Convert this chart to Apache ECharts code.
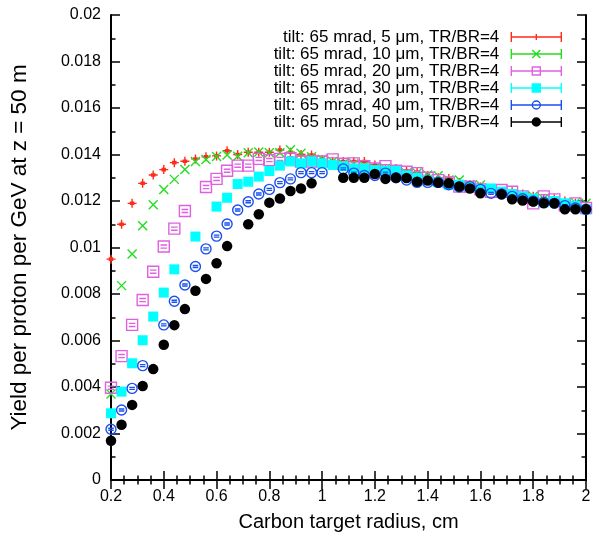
<!DOCTYPE html>
<html>
<head>
<meta charset="utf-8">
<script src="https://cdn.jsdelivr.net/npm/echarts@6/dist/echarts.min.js"></script>
<style>
html,body{margin:0;padding:0;background:#fff;}
#chart{width:594px;height:538px;}
</style>
</head>
<body>
<div id="chart"></div>
<script>
// ---- data ----
const radius = [0.2,0.24,0.28,0.32,0.36,0.4,0.44,0.48,0.52,0.56,0.6,0.64,0.68,0.72,0.76,0.8,0.84,0.88,0.92,0.96,1.0,1.04,1.08,1.12,1.16,1.2,1.24,1.28,1.32,1.36,1.4,1.44,1.48,1.52,1.56,1.6,1.64,1.68,1.72,1.76,1.8,1.84,1.88,1.92,1.96,2.0];

const yield5um  = [0.0095,0.0110,0.0119,0.01276,0.01312,0.01335,0.01365,0.01371,0.01381,0.0139,0.01394,0.01416,0.0140,0.0141,0.0141,0.0141,0.01419,0.0141,0.0140,0.01398,0.01379,0.0137,0.0137,0.0137,0.0137,0.01355,0.0134,0.0134,0.0133,0.01323,0.0131,0.0130,0.01297,0.0128,0.0127,0.0126,0.0125,0.0124,0.0124,0.0123,0.0122,0.0121,0.0121,0.0120,0.0119,0.0117];
const yield10um = [0.0037,0.00836,0.00972,0.01094,0.01184,0.01249,0.01293,0.01335,0.0137,0.01379,0.01391,0.01398,0.01392,0.01408,0.01411,0.01408,0.01408,0.0142,0.01405,0.0139,0.0138,0.0137,0.0136,0.0136,0.0135,0.0134,0.0134,0.0133,0.0132,0.0132,0.01312,0.01309,0.0129,0.0129,0.0127,0.01269,0.0125,0.0124,0.0123,0.0122,0.0122,0.0121,0.0120,0.0119,0.01193,0.0119];
const yield20um = [0.00397,0.00533,0.00667,0.00774,0.00896,0.01004,0.01081,0.01157,null,0.0126,0.01295,0.0133,0.01352,0.01352,0.01381,0.01376,0.01381,0.01384,0.0137,0.0137,0.0137,0.01379,0.0136,0.01362,0.0135,0.0134,0.0135,0.0133,0.01326,0.0132,0.0130,0.0129,0.0128,0.01262,0.01262,0.0125,0.0124,0.01247,0.0124,0.0122,0.0119,0.0122,0.01207,0.0118,0.0119,0.0117];
const yield30um = [0.00287,0.0038,0.00502,0.00601,0.00703,0.00806,0.00906,null,0.01047,null,0.01176,0.01214,0.01273,0.01283,0.01305,0.01329,0.01352,0.0137,0.01362,0.0137,0.01362,0.01355,0.0135,0.0134,0.0134,0.01333,0.0133,0.0133,0.0131,0.0130,0.0129,0.0128,0.0127,0.0127,0.0126,0.0125,0.01254,0.0124,0.0123,0.0122,0.0121,0.01194,0.0120,0.0119,0.0118,0.01164];
const yield40um = [0.00218,0.00301,0.00394,0.00492,null,0.00667,0.00769,0.00839,0.00918,0.00994,0.01049,0.01101,0.01161,0.01197,0.0123,0.0125,0.01279,0.01295,0.01322,0.01322,0.01322,null,0.01338,0.0132,0.0131,0.0131,0.0132,0.0130,0.0129,0.0128,0.0128,0.0128,0.0127,0.0126,0.01262,0.0125,0.01233,0.0123,0.0122,0.0121,0.0120,0.01194,0.0119,0.0118,0.0117,0.01164];
const yield50um = [0.00169,0.00238,0.00323,0.00404,0.00477,0.00582,0.00666,0.00735,0.00814,0.00865,0.00932,0.01006,null,0.011,0.01143,0.01193,0.01211,0.01243,0.01254,0.01276,null,null,0.013,0.013,0.013,0.01316,0.01295,0.013,0.01299,0.01283,0.01288,0.01279,0.01276,0.01262,0.01254,0.01233,null,0.01229,0.01207,0.01202,0.01198,0.0119,0.0119,0.01164,0.01164,0.01164];

const seriesNames = [
  'tilt: 65 mrad, 5 \u03bcm, TR/BR=4',
  'tilt: 65 mrad, 10 \u03bcm, TR/BR=4',
  'tilt: 65 mrad, 20 \u03bcm, TR/BR=4',
  'tilt: 65 mrad, 30 \u03bcm, TR/BR=4',
  'tilt: 65 mrad, 40 \u03bcm, TR/BR=4',
  'tilt: 65 mrad, 50 \u03bcm, TR/BR=4'
];
const xTicks = [0.2,0.4,0.6,0.8,1,1.2,1.4,1.6,1.8,2];
const yTicks = [0,0.002,0.004,0.006,0.008,0.01,0.012,0.014,0.016,0.018,0.02];

// ---- styles ----
const colors = ['#ff2a1a','#22dd22','#e060e0','#00ffff','#1a4ff0','#000000'];
const T = 'rgba(0,0,0,0)';
const fills = [T, T, T, '#00ffff', T, '#000000'];
const symbols = [
  'path://M0,5L10,5M5,0L5,10M2.5,3.8L7.5,3.8M2.5,6.2L7.5,6.2',
  'path://M0,0L10,10M10,0L0,10',
  'path://M0,0L10,0L10,10L0,10ZM2,3.6L8,3.6M2,6.4L8,6.4',
  'path://M0,0L10,0L10,10L0,10Z',
  'path://M0,5A5,5 0 1 1 10,5A5,5 0 1 1 0,5ZM2.2,4L7.8,4M2.2,6L7.8,6',
  'path://M0,5A5,5 0 1 1 10,5A5,5 0 1 1 0,5Z'
];
const symSizes = [9, 9, 11, 10, 10, 10.5];
const bar = 'M0,5L50,5M0,0L0,10M50,0L50,10';
const legendIcons = [
  'path://' + bar + 'M25,2L25,8',
  'path://' + bar + 'M21,1L29,9M29,1L21,9',
  'path://' + bar + 'M21,1L29,1L29,9L21,9Z',
  'path://' + bar + 'M21,1L29,1L29,9L21,9Z',
  'path://' + bar + 'M21,5A4,4 0 1 1 29,5A4,4 0 1 1 21,5Z',
  'path://' + bar + 'M21,5A4,4 0 1 1 29,5A4,4 0 1 1 21,5Z'
];
const allYields = [yield5um, yield10um, yield20um, yield30um, yield40um, yield50um];
const FONT = '"Liberation Sans", Arial, Helvetica, sans-serif';

const series = allYields.map((vals, k) => ({
  name: seriesNames[k],
  type: 'scatter',
  symbol: symbols[k],
  symbolSize: symSizes[k],
  itemStyle: { color: fills[k], borderColor: colors[k], borderWidth: k === 3 || k === 5 ? 0 : 1.4, opacity: 1 },
  emphasis: { disabled: true },
  data: radius.map((r, i) => vals[i] == null ? null : [r, vals[i]]).filter(d => d)
}));

const axisLine = { show: true, lineStyle: { color: '#000', width: 2 } };
const fmtX = v => String(Math.round(v * 10) / 10);
const fmtY = v => String(Math.round(v * 1000) / 1000);

const option = {
  animation: false,
  backgroundColor: '#fff',
  grid: { left: 109, right: 8, top: 15, bottom: 58 },
  legend: {
    orient: 'vertical',
    align: 'right',
    right: 27,
    top: 23.5,
    itemWidth: 50,
    itemHeight: 10,
    itemGap: 0,
    selectedMode: false,
    textStyle: { fontFamily: FONT, fontSize: 17, color: '#000', lineHeight: 17, padding: [0, 7, 0, 0] },
    data: seriesNames.map((n, k) => ({
      name: n,
      icon: legendIcons[k],
      itemStyle: { color: fills[k], borderColor: colors[k], borderWidth: 1.4 }
    }))
  },
  xAxis: [{
    type: 'value', min: xTicks[0], max: xTicks[xTicks.length - 1], interval: 0.2,
    position: 'bottom',
    axisLine: axisLine,
    axisTick: { inside: true, length: 9, lineStyle: { color: '#000', width: 1.5 } },
    minorTick: { show: true, splitNumber: 4, length: 4.5, lineStyle: { color: '#000', width: 1.5 } },
    splitLine: { show: false },
    axisLabel: { formatter: fmtX, fontFamily: FONT, fontSize: 16, color: '#000', margin: 9 },
    name: 'Carbon target radius, cm', nameLocation: 'middle', nameGap: 32,
    nameTextStyle: { fontFamily: FONT, fontSize: 20, color: '#000' }
  }, {
    type: 'value', min: xTicks[0], max: xTicks[xTicks.length - 1], interval: 0.2,
    position: 'top',
    axisLine: axisLine,
    axisTick: { inside: true, length: 9, lineStyle: { color: '#000', width: 1.5 } },
    minorTick: { show: true, splitNumber: 4, length: 4.5, lineStyle: { color: '#000', width: 1.5 } },
    splitLine: { show: false },
    axisLabel: { show: false }
  }],
  yAxis: [{
    type: 'value', min: yTicks[0], max: yTicks[yTicks.length - 1], interval: 0.002,
    position: 'left',
    axisLine: axisLine,
    axisTick: { inside: true, length: 9, lineStyle: { color: '#000', width: 1.5 } },
    minorTick: { show: true, splitNumber: 2, length: 4.5, lineStyle: { color: '#000', width: 1.5 } },
    splitLine: { show: false },
    axisLabel: { formatter: fmtY, fontFamily: FONT, fontSize: 16, color: '#000', margin: 10 },
    name: 'Yield per proton per GeV at z = 50 m', nameLocation: 'middle', nameGap: 80,
    nameTextStyle: { fontFamily: FONT, fontSize: 22.5, color: '#000' }
  }, {
    type: 'value', min: yTicks[0], max: yTicks[yTicks.length - 1], interval: 0.002,
    position: 'right',
    axisLine: axisLine,
    axisTick: { inside: true, length: 9, lineStyle: { color: '#000', width: 1.5 } },
    minorTick: { show: true, splitNumber: 2, length: 4.5, lineStyle: { color: '#000', width: 1.5 } },
    splitLine: { show: false },
    axisLabel: { show: false }
  }],
  series: series
};

const chart = echarts.init(document.getElementById('chart'), null, { renderer: 'canvas' });
chart.setOption(option);
</script>
</body>
</html>
